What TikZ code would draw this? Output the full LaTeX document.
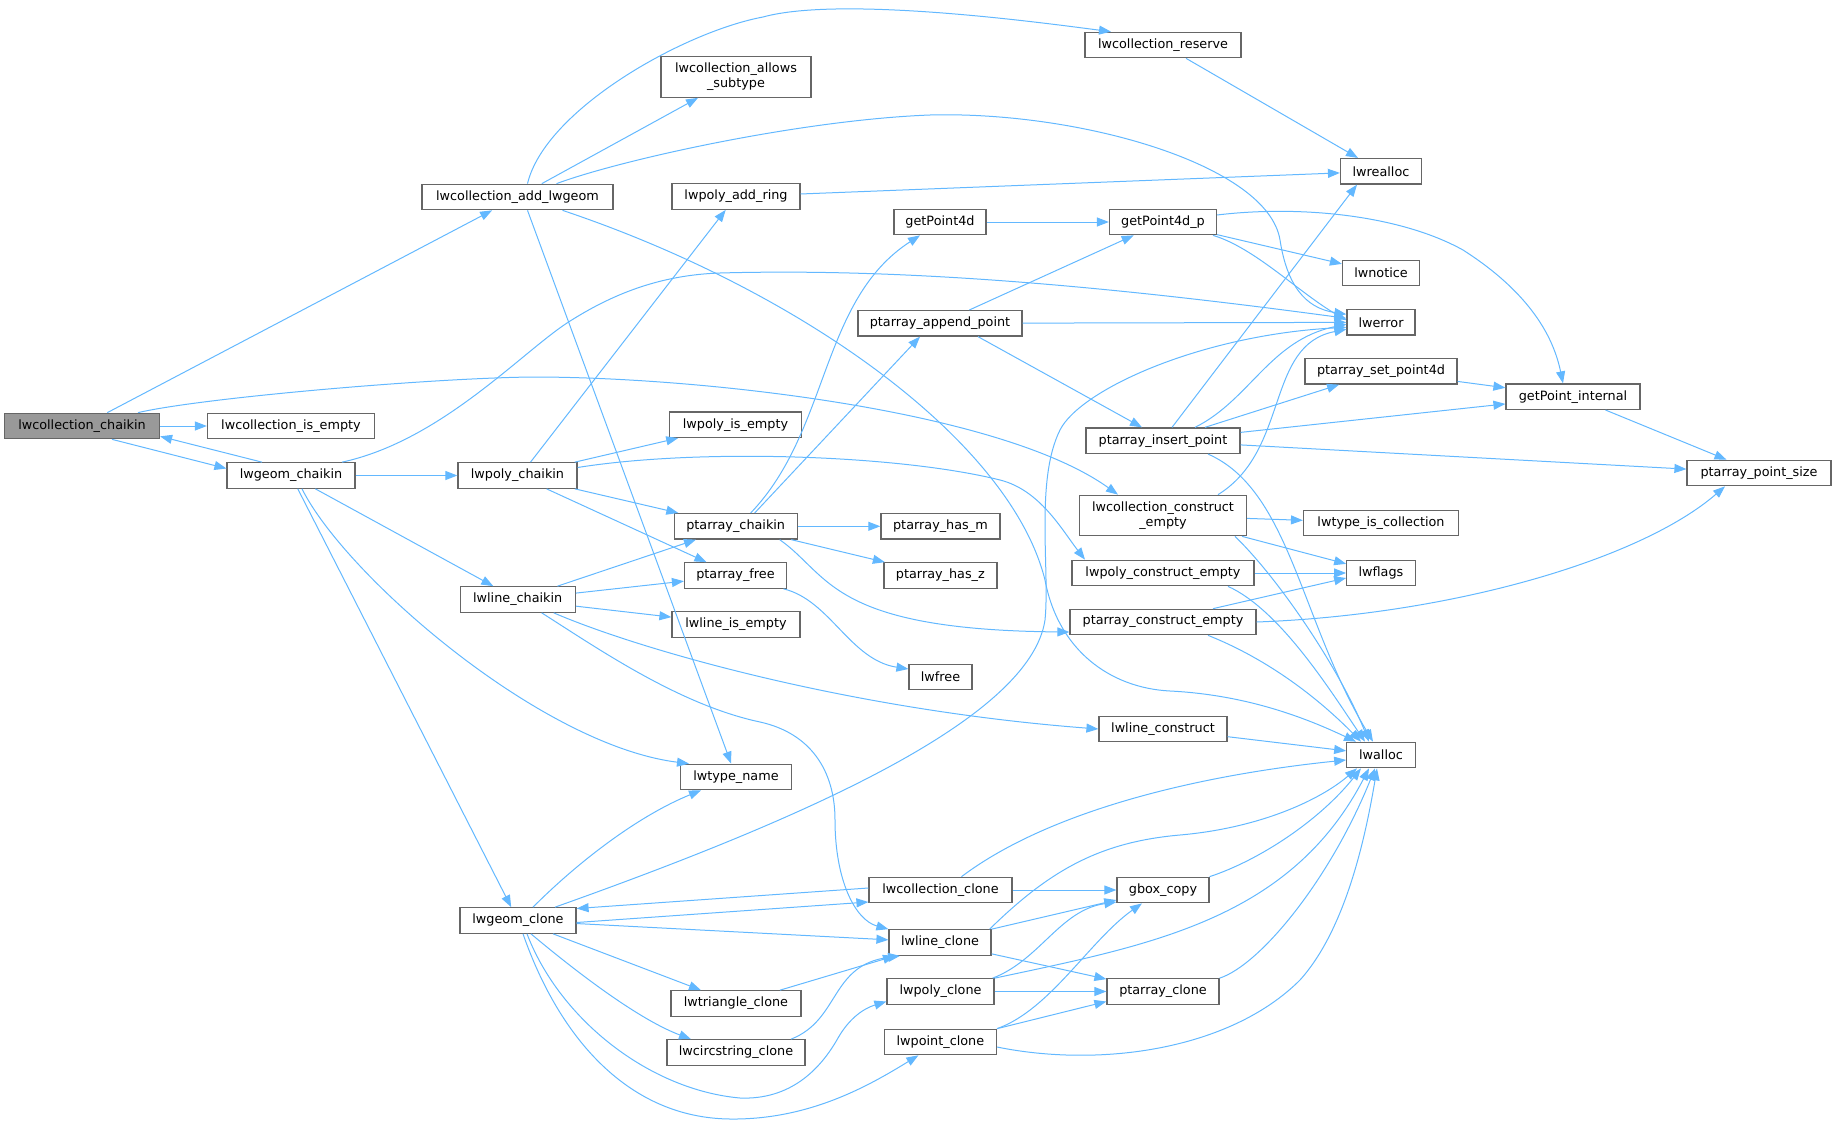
\documentclass[tikz,border=0pt]{standalone}
\usepackage{fontspec}
\setmainfont{DejaVu Sans}
\usetikzlibrary{arrows.meta}
\definecolor{callblue}{HTML}{63B8FF}
\definecolor{boxgray}{HTML}{666666}
\definecolor{rootgray}{HTML}{999999}
\begin{document}
\begin{tikzpicture}[x=1pt,y=-1pt,
  fn/.style={draw=boxgray,line width=1.2pt,fill=white,inner sep=0pt,minimum height=25.5pt,align=center,font=\fontsize{12.8}{15}\selectfont},
  two/.style={minimum height=40.5pt},
  root/.style={fill=rootgray},
  call/.style={draw=callblue,line width=1pt,-{Triangle[length=12pt,width=9pt]}}]
\useasboundingbox (0,0) rectangle (1836,1124);

\node[fn,root,minimum width=155] (cchaikin) at (82,426) {lwcollection\_chaikin};
\node[fn,minimum width=167] (cisempty) at (291,426) {lwcollection\_is\_empty};
\node[fn,minimum width=128] (gchaikin) at (291,475.5) {lwgeom\_chaikin};
\node[fn,minimum width=191] (addgeom) at (517.5,197) {lwcollection\_add\_lwgeom};
\node[fn,minimum width=119] (pchaikin) at (517.5,475.5) {lwpoly\_chaikin};
\node[fn,minimum width=115] (lchaikin) at (517.7,599.5) {lwline\_chaikin};
\node[fn,minimum width=116] (gclone) at (518,920.5) {lwgeom\_clone};
\node[fn,two,minimum width=150] (allows) at (736,77) {lwcollection\_allows\\\_subtype};
\node[fn,minimum width=128] (addring) at (736,196.5) {lwpoly\_add\_ring};
\node[fn,minimum width=132] (pisempty) at (735.5,424.7) {lwpoly\_is\_empty};
\node[fn,minimum width=123] (pachaikin) at (735.7,526.3) {ptarray\_chaikin};
\node[fn,minimum width=102] (pafree) at (735.5,575.5) {ptarray\_free};
\node[fn,minimum width=128] (lisempty) at (736,624.5) {lwline\_is\_empty};
\node[fn,minimum width=111] (tname) at (736,777) {lwtype\_name};
\node[fn,minimum width=130] (triclone) at (736,1003.5) {lwtriangle\_clone};
\node[fn,minimum width=138] (circclone) at (736,1052.5) {lwcircstring\_clone};
\node[fn,minimum width=92] (gp4d) at (940,222) {getPoint4d};
\node[fn,minimum width=164] (append) at (940,323.3) {ptarray\_append\_point};
\node[fn,minimum width=119] (hasm) at (940.4,526.3) {ptarray\_has\_m};
\node[fn,minimum width=113] (hasz) at (940.4,575.5) {ptarray\_has\_z};
\node[fn,minimum width=63] (lwfree) at (940.5,677) {lwfree};
\node[fn,minimum width=143] (cclone) at (940.5,890) {lwcollection\_clone};
\node[fn,minimum width=102] (lclone) at (940,942.5) {lwline\_clone};
\node[fn,minimum width=107] (pclone) at (940.5,991.5) {lwpoly\_clone};
\node[fn,minimum width=112] (ptclone) at (940.4,1042) {lwpoint\_clone};
\node[fn,minimum width=156] (reserve) at (1163,45) {lwcollection\_reserve};
\node[fn,minimum width=107] (gp4dp) at (1163,222) {getPoint4d\_p};
\node[fn,minimum width=154] (insert) at (1163,440.7) {ptarray\_insert\_point};
\node[fn,two,minimum width=167] (cconstr) at (1163,515.5) {lwcollection\_construct\\\_empty};
\node[fn,minimum width=182] (pcons) at (1163,573) {lwpoly\_construct\_empty};
\node[fn,minimum width=186] (paconstr) at (1163,622) {ptarray\_construct\_empty};
\node[fn,minimum width=128] (lconstr) at (1163,729) {lwline\_construct};
\node[fn,minimum width=92] (gbox) at (1163,890) {gbox\_copy};
\node[fn,minimum width=112] (paclone) at (1163,991.5) {ptarray\_clone};
\node[fn,minimum width=81] (realloc) at (1381,171.3) {lwrealloc};
\node[fn,minimum width=77] (notice) at (1381,273) {lwnotice};
\node[fn,minimum width=68] (error) at (1381,322.3) {lwerror};
\node[fn,minimum width=152] (setp4d) at (1381,371.3) {ptarray\_set\_point4d};
\node[fn,minimum width=155] (iscoll) at (1381,523) {lwtype\_is\_collection};
\node[fn,minimum width=68.5] (flags) at (1381,573) {lwflags};
\node[fn,minimum width=68.5] (alloc) at (1381,755) {lwalloc};
\node[fn,minimum width=134] (gpint) at (1573,396.7) {getPoint\_internal};
\node[fn,minimum width=144] (psize) at (1759,473) {ptarray\_point\_size};

\draw[call] (cchaikin) -- (addgeom);
\draw[call] (cchaikin) -- (cisempty);
\draw[call] ([xshift=30pt]cchaikin.south) -- ([yshift=7pt]gchaikin.west);
\draw[call] ([xshift=56pt]cchaikin.north) .. controls (200,398) and (430,378) .. (533,377) .. controls (700,377) and (1000,410) .. ([xshift=-45pt]cconstr.north);

\draw[call] ([xshift=-29pt]gchaikin.north) -- ([yshift=3pt]cchaikin.south east);
\draw[call] (gchaikin) -- (pchaikin);
\draw[call] (gchaikin) -- (lchaikin);
\draw[call] (gchaikin) -- (gclone);
\draw[call] ([xshift=11pt]gchaikin.south) .. controls (345,575) and (540,745) .. ([xshift=-47pt]tname.north);
\draw[call] ([xshift=51pt]gchaikin.north) .. controls (440,441) and (520,354) .. (567,323) .. controls (612,294) and (660,275) .. (720,273) .. controls (900,268) and (1100,285) .. ([yshift=4pt]error.west);

\draw[call] ([xshift=10pt]addgeom.north) .. controls (545,110) and (683,32) .. (763,17) .. controls (843,-5) and (1051,24) .. ([xshift=-52pt]reserve.north);
\draw[call] (addgeom) -- (allows);
\draw[call] ([xshift=39pt]addgeom.north) .. controls (620,160) and (800,120) .. (930,115) .. controls (1080,111) and (1268,165) .. (1280,240) .. controls (1287,285) and (1305,308) .. ([yshift=8pt]error.west);
\draw[call] ([xshift=10pt]addgeom.south) -- (tname);
\draw[call] ([xshift=45pt]addgeom.south) .. controls (800,290) and (1010,440) .. (1045,580) .. controls (1058,650) and (1110,688) .. (1170,691) .. controls (1250,695) and (1310,720) .. ([xshift=-25pt]alloc.north);

\draw[call] (addring) -- (realloc);
\draw[call] (reserve) -- (realloc);
\draw[call] (gp4d) -- (gp4dp);
\draw[call] (gp4dp) -- (notice);
\draw[call] ([xshift=50pt]gp4dp.south) .. controls (1255,248) and (1298,292) .. ([yshift=2pt]error.west);
\draw[call] ([yshift=7pt]gp4dp.east) .. controls (1300,205) and (1400,215) .. (1463,250) .. controls (1510,280) and (1550,320) .. ([xshift=-10pt]gpint.north);

\draw[call] (append) -- (gp4dp);
\draw[call] (append) -- (error);
\draw[call] ([xshift=38pt]append.south) -- ([xshift=-21pt]insert.north);

\draw[call] ([xshift=9pt]insert.north) -- ([xshift=-24pt]realloc.south);
\draw[call] ([xshift=32pt]insert.north) .. controls (1250,400) and (1270,340) .. ([yshift=-2pt]error.west);
\draw[call] (insert) -- (setp4d);
\draw[call] (insert) -- (gpint);
\draw[call] (insert) -- (psize);
\draw[call] ([xshift=45pt]insert.south) .. controls (1290,490) and (1300,620) .. ([xshift=-8pt]alloc.north);
\draw[call] (setp4d) -- (gpint);
\draw[call] (gpint) -- (psize);

\draw[call] ([xshift=55pt]cconstr.north) .. controls (1290,450) and (1265,345) .. ([yshift=-7pt]error.west);
\draw[call] (cconstr) -- (iscoll);
\draw[call] (cconstr) -- (flags);
\draw[call] ([xshift=72pt]cconstr.south) .. controls (1280,580) and (1340,670) .. ([xshift=-12pt]alloc.north);
\draw[call] (pcons) -- (flags);
\draw[call] ([xshift=65pt]pcons.south) .. controls (1280,610) and (1330,690) .. ([xshift=-16pt]alloc.north);
\draw[call] ([xshift=50pt]paconstr.north) -- ([yshift=-5pt]flags.west);
\draw[call] ([xshift=45pt]paconstr.south) .. controls (1270,660) and (1320,700) .. ([xshift=-20pt]alloc.north);
\draw[call] (paconstr.east) .. controls (1450,615) and (1640,560) .. ([xshift=-34pt]psize.south);
\draw[call] (lconstr) -- (alloc);

\draw[call] ([xshift=13pt]pchaikin.north) -- (addring);
\draw[call] (pchaikin) -- (pisempty);
\draw[call] (pchaikin) -- (pachaikin);
\draw[call] (pchaikin) -- (pafree);
\draw[call] ([yshift=8pt]pchaikin.east) .. controls (700,448) and (900,455) .. (1000,480) .. controls (1040,490) and (1062,530) .. ([xshift=-78pt]pcons.north);

\draw[call] (lchaikin) -- (pachaikin);
\draw[call] (lchaikin) -- (pafree);
\draw[call] (lchaikin) -- (lisempty);
\draw[call] ([xshift=36pt]lchaikin.south) .. controls (640,650) and (850,710) .. (lconstr.west);
\draw[call] ([xshift=24pt]lchaikin.south) .. controls (600,650) and (680,705) .. (760,722) .. controls (810,733) and (835,770) .. (835,820) .. controls (835,880) and (855,920) .. (lclone.north west);

\draw[call] ([xshift=15pt]pachaikin.north) .. controls (830,430) and (820,300) .. ([xshift=-20pt]gp4d.south);
\draw[call] ([xshift=19pt]pachaikin.north) -- ([xshift=-20pt]append.south);
\draw[call] (pachaikin) -- (hasm);
\draw[call] (pachaikin) -- (hasz);
\draw[call] ([xshift=44pt]pachaikin.south) .. controls (830,575) and (830,630) .. ([yshift=-10pt]paconstr.west);
\draw[call] ([xshift=48pt]pafree.south) .. controls (830,600) and (850,660) .. ([yshift=8pt]lwfree.west);

\draw[call] ([xshift=15pt]gclone.north) .. controls (580,860) and (640,815) .. ([xshift=-35pt]tname.south);
\draw[call] ([xshift=37pt]gclone.north) .. controls (800,820) and (1030,720) .. (1045,620) .. controls (1050,570) and (1035,480) .. (1060,430) .. controls (1080,390) and (1200,335) .. ([yshift=-5pt]error.west);
\draw[call] ([yshift=-2pt]gclone.east) -- ([yshift=-12pt]cclone.west);
\draw[call] (gclone) -- (lclone);
\draw[call] (gclone) -- (triclone);
\draw[call] ([xshift=13pt]gclone.south) .. controls (580,975) and (640,1020) .. ([xshift=-45pt]circclone.north);
\draw[call] ([xshift=9pt]gclone.south) .. controls (560,1020) and (650,1090) .. (740,1098) .. controls (790,1100) and (820,1070) .. (838,1038) .. controls (850,1017) and (865,1008) .. ([yshift=-10pt]pclone.west);
\draw[call] ([xshift=5pt]gclone.south) .. controls (560,1040) and (630,1118) .. (730,1119) .. controls (810,1120) and (870,1085) .. ([xshift=-22pt]ptclone.south);

\draw[call] ([yshift=2pt]cclone.west) -- ([yshift=12pt]gclone.east);
\draw[call] (cclone) -- (gbox);
\draw[call] ([xshift=21pt]cclone.north) .. controls (1050,810) and (1200,775) .. ([yshift=-5pt]alloc.west);
\draw[call] (lclone.north east) -- ([yshift=-10pt]gbox.west);
\draw[call] ([xshift=-2pt]lclone.north east) .. controls (1050,870) and (1100,842) .. (1180,835) .. controls (1260,828) and (1320,800) .. ([xshift=-24pt]alloc.south);
\draw[call] (lclone) -- (paclone);
\draw[call] ([xshift=-2pt]pclone.north east) .. controls (1040,960) and (1060,910) .. ([yshift=-12pt]gbox.west);
\draw[call] (pclone.north east) .. controls (1150,945) and (1290,920) .. ([xshift=-12pt]alloc.south);
\draw[call] (pclone) -- (paclone);
\draw[call] (ptclone.north east) .. controls (1050,1010) and (1090,940) .. ([xshift=-21pt]gbox.south);
\draw[call] (ptclone.north east) -- ([yshift=-10pt]paclone.west);
\draw[call] ([yshift=-5pt]ptclone.east) .. controls (1100,1068) and (1230,1050) .. (1300,980) .. controls (1345,930) and (1365,840) .. ([xshift=-4pt]alloc.south);
\draw[call] ([xshift=44pt]triclone.north) -- ([xshift=-45pt]lclone.south);
\draw[call] ([xshift=55pt]circclone.north) .. controls (840,1020) and (830,965) .. ([xshift=-40pt]lclone.south);
\draw[call] (gbox.north east) .. controls (1260,860) and (1320,820) .. ([xshift=-20pt]alloc.south);
\draw[call] (paclone.north east) .. controls (1260,965) and (1330,880) .. ([xshift=-6pt]alloc.south);
\end{tikzpicture}
\end{document}
